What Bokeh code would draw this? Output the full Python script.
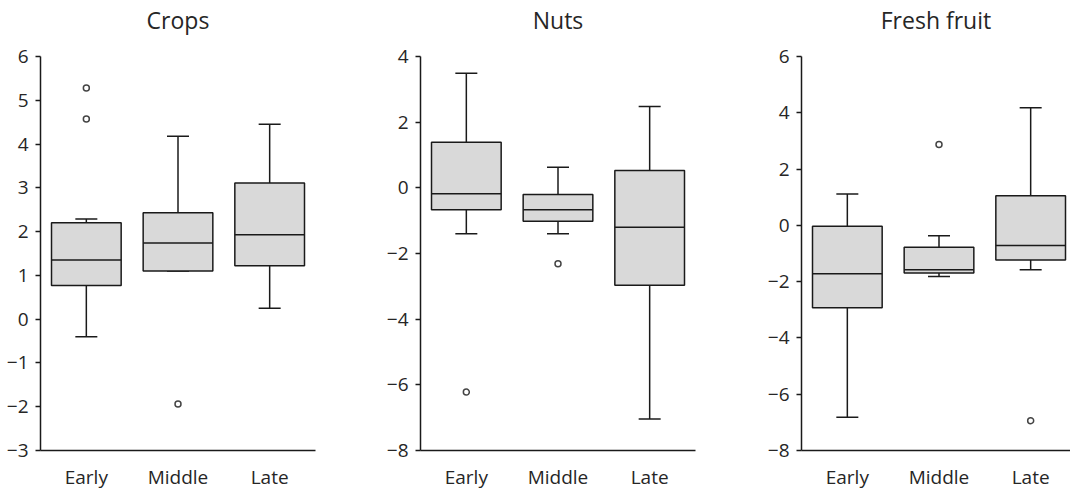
from bokeh.plotting import figure
from bokeh.layouts import row
from bokeh.models import Range1d, FixedTicker, LinearAxis
from bokeh.embed import file_html
from bokeh.resources import INLINE

categories = ["Early", "Middle", "Late"]

# Crops
crops_q1 = [0.77, 1.10, 1.22]
crops_med = [1.35, 1.74, 1.93]
crops_q3 = [2.20, 2.43, 3.11]
crops_lo = [-0.40, 1.10, 0.25]
crops_hi = [2.29, 4.18, 4.45]
crops_out_cat = ["Early", "Early", "Middle"]
crops_out_val = [5.28, 4.57, -1.94]

# Nuts
nuts_q1 = [-0.67, -1.02, -2.97]
nuts_med = [-0.18, -0.67, -1.20]
nuts_q3 = [1.39, -0.20, 0.53]
nuts_lo = [-1.40, -1.40, -7.04]
nuts_hi = [3.49, 0.63, 2.48]
nuts_out_cat = ["Early", "Middle"]
nuts_out_val = [-6.22, -2.31]

# Fresh fruit
fruit_q1 = [-2.93, -1.69, -1.23]
fruit_med = [-1.72, -1.58, -0.72]
fruit_q3 = [-0.03, -0.78, 1.05]
fruit_lo = [-6.82, -1.82, -1.58]
fruit_hi = [1.11, -0.37, 4.18]
fruit_out_cat = ["Middle", "Late"]
fruit_out_val = [2.87, -6.94]

FONT = "Open Sans"
TXT = "#262626"
LINE = "#1a1a1a"
BOX_W = 0.76
CAP_W = 0.24
FRAME_W = 275
FRAME_H = 394
TOP = 56
BOTTOM = 45


def panel(title, q1, med, q3, lo, hi, out_cat, out_val, ymin, ymax, ystep,
          width, border_left):
    fw = min(FRAME_W, width - border_left)
    px_per_unit = FRAME_W / 3
    x_end = fw / px_per_unit
    p = figure(width=width, height=FRAME_H + TOP + BOTTOM,
               x_range=Range1d(0, x_end), y_range=Range1d(ymin, ymax),
               output_backend="svg", toolbar_location=None,
               min_border_left=border_left, min_border_right=width - border_left - fw,
               min_border_top=TOP, min_border_bottom=BOTTOM,
               outline_line_color=None, background_fill_color="white")
    p.grid.visible = False

    # title drawn as the label of an invisible axis above the frame
    tax = LinearAxis(axis_label=title, ticker=FixedTicker(ticks=[]),
                     axis_line_color=None, major_tick_line_color=None,
                     minor_tick_line_color=None,
                     axis_label_standoff=21,
                     axis_label_text_font=FONT, axis_label_text_font_size="23px",
                     axis_label_text_font_style="normal", axis_label_text_color=TXT)
    p.add_layout(tax, "above")

    xs = [i + 0.5 for i in range(len(categories))]
    pos = {c: i + 0.5 for i, c in enumerate(categories)}

    # whiskers
    p.segment(x0=xs, y0=q3, x1=xs, y1=hi, line_color=LINE, line_width=1.5)
    p.segment(x0=xs, y0=q1, x1=xs, y1=lo, line_color=LINE, line_width=1.5)
    p.segment(x0=[x - CAP_W / 2 for x in xs], y0=hi, x1=[x + CAP_W / 2 for x in xs], y1=hi,
              line_color=LINE, line_width=1.5)
    p.segment(x0=[x - CAP_W / 2 for x in xs], y0=lo, x1=[x + CAP_W / 2 for x in xs], y1=lo,
              line_color=LINE, line_width=1.5)
    # boxes
    p.vbar(x=xs, width=BOX_W, top=q3, bottom=q1, fill_color="#d9d9d9",
           line_color=LINE, line_width=1.5)
    p.segment(x0=[x - BOX_W / 2 for x in xs], y0=med, x1=[x + BOX_W / 2 for x in xs], y1=med,
              line_color=LINE, line_width=1.5)
    # outliers
    p.scatter(x=[pos[c] for c in out_cat], y=out_val, size=6, marker="circle",
              fill_color="white", line_color="#444444", line_width=1.5)

    xax = p.below[0]
    yax = p.left[0]
    xax.ticker = FixedTicker(ticks=xs)
    xax.major_label_overrides = {x: c for x, c in zip(xs, categories)}
    xax.minor_tick_line_color = None
    xax.major_label_standoff = 7
    yax.ticker = FixedTicker(ticks=list(range(ymin, ymax + 1, ystep)))
    yax.major_tick_in = 0
    yax.major_tick_out = 5
    yax.minor_tick_line_color = None
    yax.major_label_standoff = 7
    for ax in (xax, yax):
        ax.axis_line_color = LINE
        ax.axis_line_width = 1.5
        ax.major_tick_line_color = LINE if ax is yax else None
        ax.major_tick_line_width = 1.5
        ax.major_label_text_font = FONT
        ax.major_label_text_font_size = "19px"
        ax.major_label_text_color = TXT
    return p


p1 = panel("Crops", crops_q1, crops_med, crops_q3, crops_lo, crops_hi,
           crops_out_cat, crops_out_val, -3, 6, 1, 357, 40)
p2 = panel("Nuts", nuts_q1, nuts_med, nuts_q3, nuts_lo, nuts_hi,
           nuts_out_cat, nuts_out_val, -8, 4, 2, 357, 63)
p3 = panel("Fresh fruit", fruit_q1, fruit_med, fruit_q3, fruit_lo, fruit_hi,
           fruit_out_cat, fruit_out_val, -8, 6, 2, 356, 87)

layout = row(p1, p2, p3)
open("out.html", "w").write(file_html(layout, INLINE))
